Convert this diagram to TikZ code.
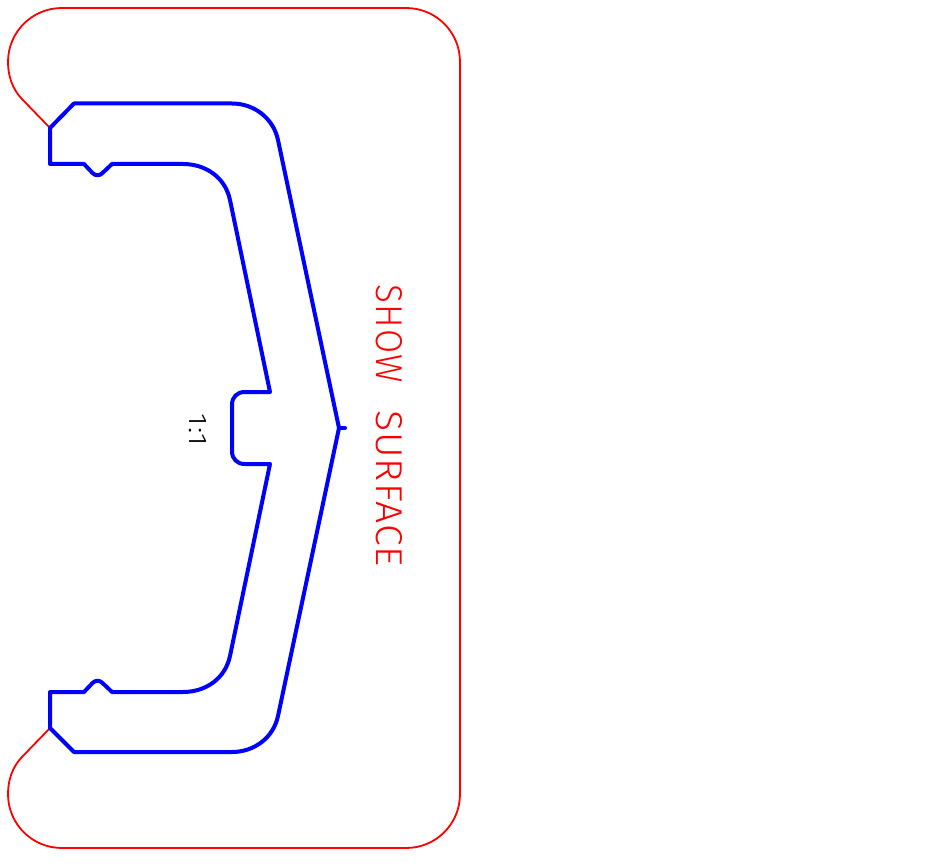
\documentclass[tikz,border=0pt]{standalone}
\usepackage{graphicx}
\usepackage{fontspec}
\setmainfont{Liberation Sans}
\newfontfamily\cadfont[LetterSpace=3]{Fira Sans Light}
\newcommand{\fitlabel}[3]{\resizebox{#1}{#2}{\cadfont\fontsize{30}{30}\selectfont #3}}
\tikzset{
  redline/.style={draw={rgb,255:red,255;green,0;blue,0},line width=1.8pt,line join=round},
  blueline/.style={draw={rgb,255:red,0;green,0;blue,255},line width=4pt,line join=round,line cap=round},
  redtext/.style={text={rgb,255:red,255;green,0;blue,0},inner sep=0pt,rotate=-90},
  blacktext/.style={text=black,inner sep=0pt,rotate=-90}
}
\begin{document}
\begin{tikzpicture}[x=1pt,y=-1pt]
\useasboundingbox (0,0) rectangle (952,866);
% red outline
\draw[redline] (50,128) -- (21.5,98.5)
  .. controls (12.5,89) and (8,76) .. (8,62)
  .. controls (8,32) and (32,8) .. (62,8) -- (406,8)
  .. controls (436,8) and (460,32) .. (460,62) -- (460,794)
  .. controls (460,824) and (436,848) .. (406,848) -- (62,848)
  .. controls (32,848) and (8,824) .. (8,794)
  .. controls (8,780) and (12.5,767) .. (21.5,757.5) -- (50,728);
% blue profile
\draw[blueline] (50,128) -- (74,103.5) -- (232,103.5)
  .. controls (254.2,103.5) and (273.4,118.3) .. (278,140)
  -- (339,428) -- (278,716)
  .. controls (273.4,737.7) and (254.2,752) .. (232,752)
  -- (74,752) -- (50,728) -- (50,692) -- (84,692) -- (92.5,683)
  .. controls (95.5,680) and (99.5,680) .. (102.5,683)
  -- (112,692) -- (183,692)
  .. controls (205.9,692) and (225.3,678.4) .. (230,656)
  -- (270,464) -- (245,464)
  .. controls (237,464) and (232,459) .. (232,451)
  -- (232,405)
  .. controls (232,397) and (237,392) .. (245,392)
  -- (270,392) -- (230,200)
  .. controls (225.3,177.6) and (205.9,164) .. (183,164)
  -- (112,164) -- (102.5,173)
  .. controls (99.5,176) and (95.5,176) .. (92.5,173)
  -- (84,164) -- (50,164) -- cycle;
\draw[blueline] (339,428) -- (345,428);
% labels
\node[redtext] (show) at (389,426) {\fitlabel{98pt}{26pt}{SHOW}\hspace{27pt}\fitlabel{157pt}{26pt}{SURFACE}};
\node[blacktext] (ratio) at (198,430) {\fitlabel{32pt}{17pt}{1:1}};
\end{tikzpicture}
\end{document}
